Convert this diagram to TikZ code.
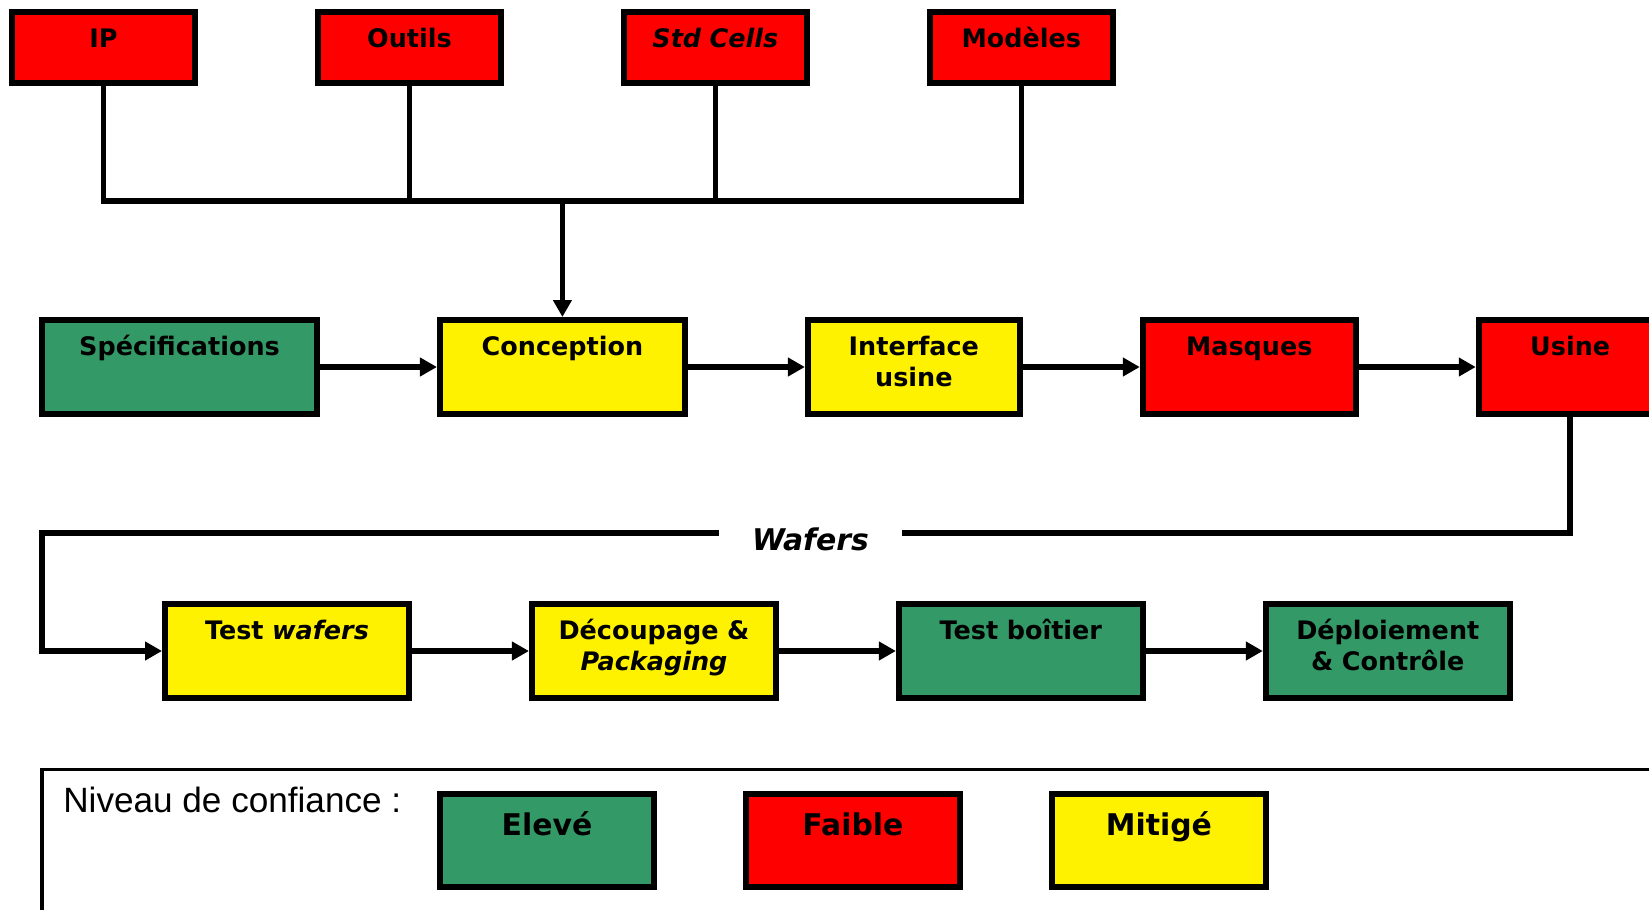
\documentclass[tikz,border=0pt]{standalone}
\usepackage{fontspec}
\setmainfont{DejaVu Sans}[
  BoldFont={DejaVu Sans Bold},
  ItalicFont={DejaVu Sans Oblique},
  BoldItalicFont={DejaVu Sans Bold Oblique},
]
\newfontfamily\legendefont{Liberation Sans}
\usetikzlibrary{arrows.meta}
\usetikzlibrary{positioning}
\definecolor{vert}{RGB}{51,153,102}
\newcommand{\etapefont}{\fontsize{14.5}{18.1}\selectfont\bfseries}
\newcommand{\niveaufont}{\fontsize{17}{20}\selectfont\bfseries}
\tikzstyle{etape} = [
  draw,
  rectangle,
  line width=0.12cm,
  inner sep=0pt,
  align=center,
  font=\etapefont,
]
\tikzstyle{source} = [
  etape,
  text width=3.66cm,
  text height=0.72cm,
  text depth=0.70cm,
]
\tikzstyle{flux} = [
  etape,
  text height=0.70cm,
  text depth=1.18cm,
]
\tikzstyle{niveau} = [
  etape,
  text width=4.28cm,
  text height=0.82cm,
  text depth=1.04cm,
  font=\niveaufont,
]
\tikzstyle{eleve} = [
  fill=vert,
]
\tikzstyle{faible} = [
  fill=red,
]
\tikzstyle{mitige} = [
  fill=yellow,
]
\tikzstyle{fil} = [
  line width=0.11cm,
]
\tikzstyle{etiquette} = [
  anchor=base,
  inner xsep=0.66cm,
  inner ysep=0pt,
  font=\fontsize{17}{20}\selectfont\bfseries\itshape,
]

\begin{document}
\begin{tikzpicture}[
    x=0.02cm,
    y=-0.02cm,
    node distance=2.34cm,
    >={Triangle[length=0.34cm,width=0.36cm]},
  ]
  \useasboundingbox (0,0) rectangle (1649,909);
  % entrees
  \node[source, faible] (ip) at (103.5,47.5) {IP};
  \node[source, faible, right=of ip] (outils) {Outils};
  \node[source, faible, right=of outils] (stdcells) {\textit{Std Cells}};
  \node[source, faible, right=of stdcells] (modeles) {Modèles};
  % flot principal
  \node[flux, eleve, text width=5.5cm] (spec) at (179.5,367) {Spécifications};
  \node[
    flux, mitige, text width=4.9cm,
    right=of spec
  ](conception){Conception};
  \node[
    flux, mitige, text width=4.24cm,
    right=of conception
  ](interface){Interface\\usine};
  \node[
    flux, faible, text width=4.26cm,
    right=of interface
  ](masques){Masques};
  \node[
    flux, faible, text width=3.66cm,
    right=of masques
  ](usine){Usine};
  \node[etiquette] (wafers) at (810.5,550) {Wafers};
  % apres fabrication
  \node[flux, mitige, text width=4.88cm] (twafers) at (287,651) {Test \textit{wafers}};
  \node[
    flux, mitige, text width=4.88cm,
    right=of twafers
  ](decoupage){Découpage \&\\\textit{Packaging}};
  \node[
    flux, eleve, text width=4.88cm,
    right=of decoupage
  ](tboitier){Test boîtier};
  \node[
    flux, eleve, text width=4.88cm,
    right=of tboitier
  ](deploiement){Déploiement\\\& Contrôle};
  % bus des entrees
  \coordinate (bus) at (conception.north |- 0,201);
  \draw[fil] (ip.south) |- (bus) -| (modeles.south);
  \draw[fil] (outils.south) -- (outils.south |- bus);
  \draw[fil] (stdcells.south) -- (stdcells.south |- bus);
  \draw[fil, ->] (bus) -- (conception);
  \draw[fil, ->] (spec) -- (conception);
  \draw[fil, ->] (conception) -- (interface);
  \draw[fil, ->] (interface) -- (masques);
  \draw[fil, ->] (masques) -- (usine);
  % retour des wafers
  \coordinate (coin) at (42,533);
  \draw[fil] (usine.south) |- (wafers.east |- coin);
  \draw[fil, ->] (wafers.west |- coin) -- (coin) |- (twafers);
  \draw[fil, ->] (twafers) -- (decoupage);
  \draw[fil, ->] (decoupage) -- (tboitier);
  \draw[fil, ->] (tboitier) -- (deploiement);
  % legende
  \draw[line width=0.07cm] (42,769.5) rectangle (1700,960);
  \node[
    anchor=base west,
    inner sep=0pt,
    font=\legendefont\fontsize{20}{24}\selectfont
  ](confiance) at (63,812) {Niveau de confiance :};
  \node[niveau, eleve] (legeleve) at (547,840.5) {Elevé};
  \node[niveau, faible, right=1.72cm of legeleve] (legfaible) {Faible};
  \node[niveau, mitige, right=1.72cm of legfaible] (legmitige) {Mitigé};
\end{tikzpicture}
\end{document}
